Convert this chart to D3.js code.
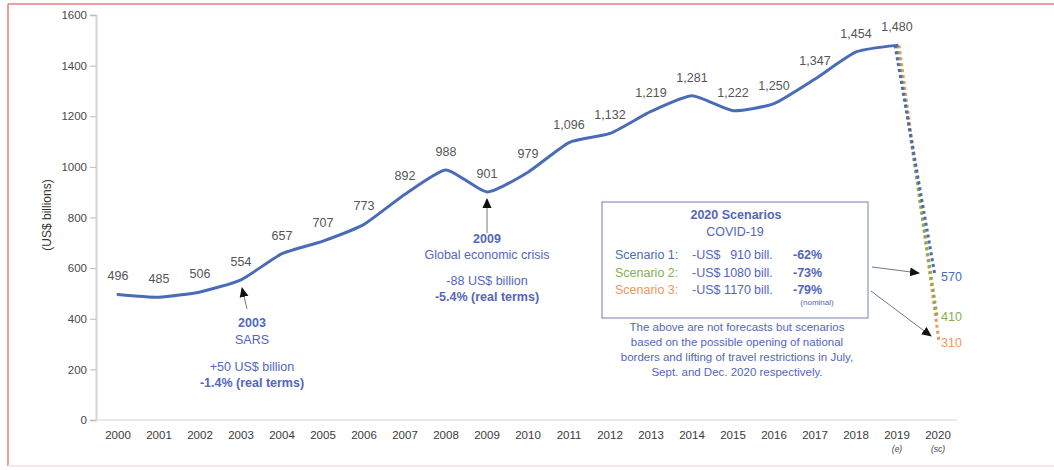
<!DOCTYPE html>
<html>
<head>
<meta charset="utf-8">
<script src="https://cdn.jsdelivr.net/npm/d3@7/dist/d3.min.js"></script>
<style>
  html, body { margin: 0; padding: 0; background: #fff; }
  svg { display: block; font-family: "Liberation Sans", Arial, sans-serif; }
</style>
</head>
<body>
<svg id="chart" width="1054" height="470"></svg>
<script>
// International tourism receipts, US$ billions
const years = [2000, 2001, 2002, 2003, 2004, 2005, 2006, 2007, 2008, 2009, 2010,
               2011, 2012, 2013, 2014, 2015, 2016, 2017, 2018, 2019];
const receipts = [496, 485, 506, 554, 657, 707, 773, 892, 988, 901, 979,
                  1096, 1132, 1219, 1281, 1222, 1250, 1347, 1454, 1480];
const axisYears = [2000, 2001, 2002, 2003, 2004, 2005, 2006, 2007, 2008, 2009, 2010,
                   2011, 2012, 2013, 2014, 2015, 2016, 2017, 2018, 2019, 2020];
const yearNotes = { 2019: "(e)", 2020: "(sc)" };
const scenarioNames = ["Scenario 1:", "Scenario 2:", "Scenario 3:"];
const scenarioValues = [570, 410, 310];
const scenarioLoss = [910, 1080, 1170];
const scenarioPct = ["-62%", "-73%", "-79%"];
const scenarioColors = ["#4a6cb8", "#86b04c", "#f2955e"];
const yTicks = [0, 200, 400, 600, 800, 1000, 1200, 1400, 1600];

const svg = d3.select("#chart");
const blue = "#4a6cb8";
const textBlue = "#5466bd";

// frame
svg.append("line").attr("x1", 8).attr("x2", 8).attr("y1", 4).attr("y2", 466)
  .attr("stroke", "#e07f7f").attr("stroke-width", 1.5);
svg.append("line").attr("x1", 8).attr("x2", 1054).attr("y1", 4).attr("y2", 4)
  .attr("stroke", "#e07f7f").attr("stroke-width", 1.5);
svg.append("line").attr("x1", 8).attr("x2", 1054).attr("y1", 466).attr("y2", 466)
  .attr("stroke", "#fbe4e4").attr("stroke-width", 2);

const x = d3.scaleBand().domain(axisYears).range([97.5, 958.5]).paddingInner(0).paddingOuter(0);
const cx = d => x(d) + x.bandwidth() / 2;
const y = d3.scaleLinear().domain([0, 1600]).range([420, 15]);

// y axis
const yAxis = svg.append("g").attr("transform", "translate(96,0)")
  .call(d3.axisLeft(y).tickValues(yTicks).tickSize(6).tickPadding(3).tickFormat(d3.format("d")));
yAxis.select(".domain").attr("stroke", "#d4d4d4").attr("stroke-width", 2);
yAxis.selectAll(".tick line").attr("stroke", "#bdbdbd");
yAxis.selectAll(".tick text").attr("fill", "#4a4a4a").style("font-size", "11.5px");

svg.append("text").attr("transform", "translate(51,215) rotate(-90)")
  .attr("text-anchor", "middle").attr("fill", "#333").style("font-size", "12px")
  .text("(US$ billions)");

// x axis
const xAxis = svg.append("g").attr("transform", "translate(0,420)")
  .call(d3.axisBottom(x).tickSize(0).tickPadding(11).tickFormat(d3.format("d")));
xAxis.select(".domain").attr("stroke", "#e2e2e2").attr("stroke-width", 1.5)
  .attr("d", "M96,0H957");
xAxis.selectAll(".tick text").attr("fill", "#3a3a3a").style("font-size", "11.5px");
xAxis.selectAll(".tick").filter(d => yearNotes[d])
  .append("text").attr("y", 32).attr("fill", "#444")
  .style("font-size", "8.5px").style("font-style", "italic")
  .text(d => yearNotes[d]);

// scenario projections 2019 -> 2020
const last = years.length - 1;
[2, 1, 0].forEach(i => {
  svg.append("line")
    .attr("x1", cx(years[last])).attr("y1", y(receipts[last]))
    .attr("x2", cx(2020) - 1).attr("y2", y(scenarioValues[i]))
    .attr("transform", `translate(${(i - 1) * 2},0)`)
    .attr("stroke", scenarioColors[i]).attr("stroke-width", 3)
    .attr("stroke-dasharray", "3,3");
});

// main series
const line = d3.line().x((d, i) => cx(years[i])).y(d => y(d)).curve(d3.curveCardinal.tension(0.45));
svg.append("path").datum(receipts).attr("d", line)
  .attr("fill", "none").attr("stroke", blue).attr("stroke-width", 3)
  .attr("stroke-linejoin", "round").attr("stroke-linecap", "round");

// value labels
const fmt = d3.format(",");
svg.append("g").selectAll("text").data(receipts).join("text")
  .attr("x", (d, i) => cx(years[i]))
  .attr("y", d => y(d) - 14)
  .attr("text-anchor", "middle").attr("fill", "#555").style("font-size", "12.5px")
  .text(d => fmt(d));

scenarioValues.forEach((v, i) => {
  svg.append("text").attr("x", cx(2020) + 3).attr("y", y(v) + 5)
    .attr("fill", scenarioColors[i]).style("font-size", "12.5px").text(fmt(v));
});

// arrow marker
svg.append("defs").append("marker").attr("id", "head")
  .attr("viewBox", "0 0 10 10").attr("refX", 9).attr("refY", 5)
  .attr("markerWidth", 10).attr("markerHeight", 10).attr("markerUnits", "userSpaceOnUse")
  .attr("orient", "auto")
  .append("path").attr("d", "M0,0.5L10,5L0,9.5Z").attr("fill", "#111");

function arrow(x1, y1, x2, y2) {
  svg.append("line").attr("x1", x1).attr("y1", y1).attr("x2", x2).attr("y2", y2)
    .attr("stroke", "#777").attr("stroke-width", 1).attr("marker-end", "url(#head)");
}

function note(xc, lines) {
  lines.forEach(l => {
    svg.append("text").attr("x", xc).attr("y", l.y).attr("text-anchor", "middle")
      .attr("fill", textBlue).style("font-size", "12.5px")
      .style("font-weight", l.bold ? "bold" : "normal").text(l.t);
  });
}

// SARS, 2003
arrow(cx(2003) + 6, 309, cx(2003) + 1, 288);
note(cx(2003) + 11, [
  { t: "2003", y: 327, bold: true },
  { t: "SARS", y: 344 },
  { t: "+50 US$ billion", y: 371 },
  { t: "-1.4% (real terms)", y: 387, bold: true }
]);

// Global economic crisis, 2009
arrow(cx(2009), 233, cx(2009), 199);
note(cx(2009), [
  { t: "2009", y: 243, bold: true },
  { t: "Global economic crisis", y: 259 },
  { t: "-88 US$ billion", y: 285 },
  { t: "-5.4% (real terms)", y: 301, bold: true }
]);

// scenario box
svg.append("rect").attr("x", 602).attr("y", 202).attr("width", 266).attr("height", 116)
  .attr("fill", "#fff").attr("stroke", "#8a96b8").attr("stroke-width", 1.2);
svg.append("text").attr("x", 736).attr("y", 219).attr("text-anchor", "middle")
  .attr("fill", textBlue).style("font-size", "12.5px").style("font-weight", "bold")
  .text("2020 Scenarios");
svg.append("text").attr("x", 735).attr("y", 236).attr("text-anchor", "middle")
  .attr("fill", textBlue).style("font-size", "12.5px").text("COVID-19");
scenarioNames.forEach((n, i) => {
  const ty = 259 + i * 17.5;
  svg.append("text").attr("x", 615).attr("y", ty).attr("fill", scenarioColors[i])
    .style("font-size", "12.5px").text(n);
  svg.append("text").attr("x", 692).attr("y", ty).attr("fill", textBlue)
    .style("font-size", "12.5px").text("-US$");
  svg.append("text").attr("x", 751).attr("y", ty).attr("fill", textBlue)
    .attr("text-anchor", "end").style("font-size", "12.5px").text(scenarioLoss[i]);
  svg.append("text").attr("x", 754).attr("y", ty).attr("fill", textBlue)
    .style("font-size", "12.5px").text("bill.");
  svg.append("text").attr("x", 793).attr("y", ty).attr("fill", textBlue)
    .style("font-size", "12.5px").style("font-weight", "bold").text(scenarioPct[i]);
});
svg.append("text").attr("x", 817).attr("y", 305).attr("text-anchor", "middle")
  .attr("fill", textBlue).style("font-size", "8px").text("(nominal)");

const disclaimer = [
  "The above are not forecasts but scenarios",
  "based on the possible opening of national",
  "borders and lifting of travel restrictions in July,",
  "Sept. and Dec. 2020 respectively."
];
disclaimer.forEach((t, i) => {
  svg.append("text").attr("x", 737).attr("y", 331 + i * 15).attr("text-anchor", "middle")
    .attr("fill", textBlue).style("font-size", "11.5px").text(t);
});

// arrows from box to projections
arrow(872, 267, 919, 273);
arrow(871, 291, 931, 336);
</script>
</body>
</html>
